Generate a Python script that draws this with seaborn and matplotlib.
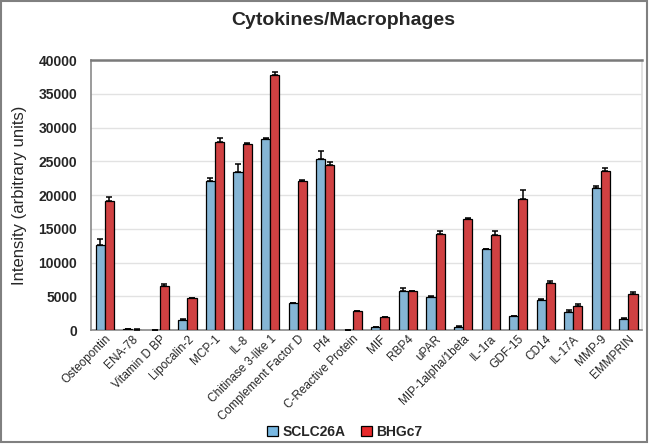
import numpy as np
import pandas as pd
import matplotlib
matplotlib.use("Agg")
import matplotlib.pyplot as plt
from matplotlib.patches import Rectangle
import seaborn as sns

cytokines = ["Osteopontin", "ENA-78", "Vitamin D BP", "Lipocalin-2", "MCP-1", "IL-8",
             "Chitinase 3-like 1", "Complement Factor D", "Pf4", "C-Reactive Protein",
             "MIF", "RBP4", "uPAR", "MIP-1alpha/1beta", "IL-1ra", "GDF-15", "CD14",
             "IL-17A", "MMP-9", "EMMPRIN"]
sclc26a = [12600, 150, 0, 1500, 22100, 23400, 28300, 4100, 25400, 50,
           400, 5800, 4900, 500, 12000, 2100, 4400, 2650, 21000, 1600]
sclc26a_err = [850, 80, 0, 200, 500, 1150, 100, 0, 1200, 0,
               50, 400, 150, 80, 0, 0, 250, 350, 300, 150]
bhgc7 = [19200, 100, 6600, 4700, 27850, 27600, 37800, 22100, 24400, 2900,
         1900, 5800, 14200, 16400, 14170, 19400, 7060, 3550, 23550, 5300]
bhgc7_err = [500, 50, 200, 0, 600, 50, 450, 100, 550, 0,
             0, 0, 450, 250, 450, 1400, 250, 400, 450, 350]
groups = ["SCLC26A", "BHGc7"]
colors = ["#78b8e2", "#e8292b"]

df = pd.DataFrame({
    "cytokine": cytokines * 2,
    "group": [groups[0]] * len(cytokines) + [groups[1]] * len(cytokines),
    "value": sclc26a + bhgc7,
    "err": sclc26a_err + bhgc7_err,
})

sns.set_style("white")
plt.rcParams["font.family"] = ["Liberation Sans", "DejaVu Sans"]

fig = plt.figure(figsize=(6.5, 4.45), dpi=100)
ax = fig.add_axes([0.14, 0.258, 0.848, 0.607])

sns.barplot(data=df, x="cytokine", y="value", hue="group", palette=colors,
            errorbar=None, width=0.66, edgecolor="black", linewidth=0.9,
            dodge=True, ax=ax, zorder=3)

# upward-only error bars at each bar's centre
for cont, g in zip(ax.containers, groups):
    sub = df[df["group"] == g]
    xs = [p.get_x() + p.get_width() / 2 for p in cont.patches]
    ys = [p.get_height() for p in cont.patches]
    ax.errorbar(xs, ys, yerr=[np.zeros(len(xs)), sub["err"].values], fmt="none",
                ecolor="black", elinewidth=1.1, capsize=2.5, capthick=1.1, zorder=4)

ax.set_ylim(0, 40000)
ax.set_xlim(-0.5, len(cytokines) - 0.5)
ax.set_yticks(range(0, 40001, 5000))
ax.yaxis.grid(True, color="#e2e2e2", linewidth=1)
ax.set_axisbelow(True)
for s in ax.spines.values():
    s.set_color("#8a8a8a")
    s.set_linewidth(1.2)
ax.spines["top"].set_linewidth(1.8)
ax.spines["top"].set_color("#7a7a7a")
ax.spines["right"].set_color("#dddddd")

ax.tick_params(axis="y", length=0, pad=10, labelsize=10)
for lab in ax.get_yticklabels():
    lab.set_fontweight("bold")
ax.tick_params(axis="x", length=0, pad=2)
ax.set_xticks(range(len(cytokines)))
ax.set_xticklabels(cytokines, rotation=45, ha="right", rotation_mode="anchor",
                   fontsize=8.5)
ax.set_xlabel("")
ax.set_ylabel("Intensity (arbitrary units)", fontsize=12, labelpad=8)

ax.legend_.remove()
handles = [Rectangle((0, 0), 1, 1, facecolor=c, edgecolor="black", linewidth=0.9)
           for c in colors]
fig.legend(handles, groups, loc="center", bbox_to_anchor=(0.53, 0.03), ncol=2,
           frameon=False, prop={"weight": "bold", "size": 10},
           handlelength=0.8, handleheight=0.8, handletextpad=0.3, columnspacing=1.1)

fig.text(0.528, 0.953, "Cytokines/Macrophages", ha="center", va="center",
         fontsize=14, fontweight="bold")

fig.patches.append(Rectangle((0.002, 0.006), 0.994, 0.992, transform=fig.transFigure,
                             fill=False, edgecolor="#808080", linewidth=1.5))

fig.savefig("out.png", dpi=100)
